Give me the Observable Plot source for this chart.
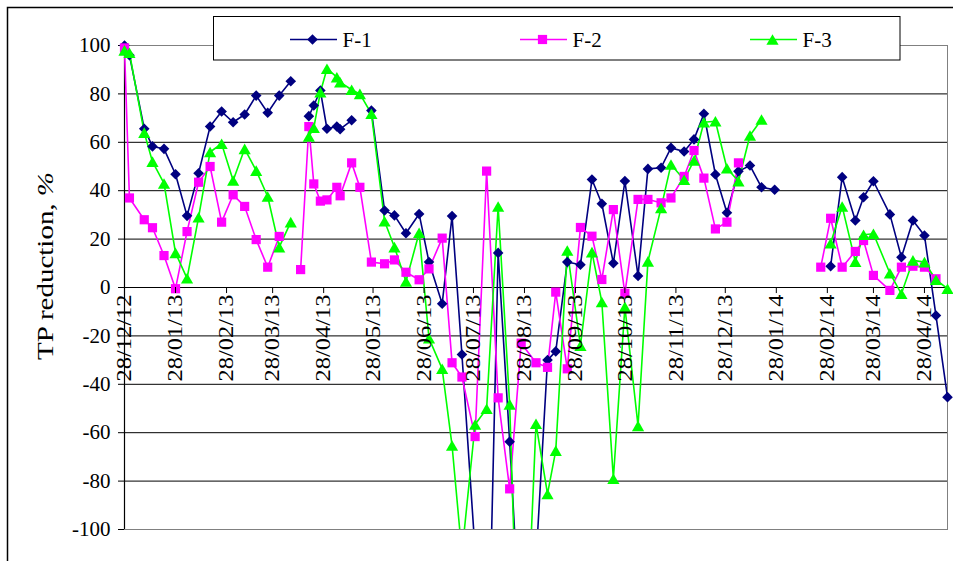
<!DOCTYPE html>
<html><head><meta charset="utf-8">
<script src="https://cdn.jsdelivr.net/npm/d3@7"></script>
<script src="https://cdn.jsdelivr.net/npm/@observablehq/plot@0.6"></script>
<style>
html,body{margin:0;padding:0;background:#fff;}
#chart{position:relative;width:953px;height:561px;overflow:hidden;}
</style></head><body><div id="chart"></div>
<script>
// ---- data ----
const dates = [
 "2012-12-28","2012-12-31","2013-01-09","2013-01-14","2013-01-21","2013-01-28","2013-02-04","2013-02-11",
 "2013-02-18","2013-02-25","2013-03-04","2013-03-11","2013-03-18","2013-03-25","2013-04-01","2013-04-08",
 "2013-04-14","2013-04-19","2013-04-22","2013-04-26","2013-04-30","2013-05-06","2013-05-08","2013-05-15",
 "2013-05-20","2013-05-27","2013-06-04","2013-06-10","2013-06-17","2013-06-25","2013-07-01","2013-07-09",
 "2013-07-15","2013-07-21","2013-07-29","2013-08-05","2013-08-12","2013-08-19","2013-08-26","2013-09-04",
 "2013-09-11","2013-09-16","2013-09-23","2013-10-01","2013-10-08","2013-10-14","2013-10-21","2013-10-28",
 "2013-11-05","2013-11-11","2013-11-19","2013-11-25","2013-12-03","2013-12-09","2013-12-15","2013-12-22",
 "2013-12-29","2014-01-05","2014-01-12","2014-01-19","2014-01-27","2014-02-24","2014-03-02","2014-03-09",
 "2014-03-17","2014-03-22","2014-03-28","2014-04-07","2014-04-14","2014-04-21","2014-04-28","2014-05-05",
 "2014-05-12"
];
const f1 = [
 100, 96, 65.6, 58.3, 57.3, 46.8, 29.6, 47.2,
 66.5, 72.7, 68.3, 71.5, 79.3, 72.2, 79.3, 85.2,
 null, 70.8, 75.2, 81.4, 65.6, 66.5, 65.4, 69.1,
 null, 73.1, 31.8, 29.8, 22.4, 30.4, 10.5, -6.7,
 29.5, -27.7, -109, -190, 14.3, -63.7, -150, -113,
 -30, -26.4, 10.5, 9.4, 44.6, 34.6, 10, 44,
 4.8, 49, 49.5, 57.7, 56.2, 61.2, 71.8, 46.7,
 30.9, 48, 50.4, 41.4, 40.4, null, 8.8, 45.6,
 27.7, 37.3, 43.9, 30.2, 12.5, 27.7, 21.5, -11.6,
 -45.3
];
const f2 = [
 99, 37, 28, 24.7, 13.2, -0.5, 23.1, 43.5,
 50, 27, 38.3, 33.5, 19.8, 8.4, 21.1, null,
 7.4, 66.5, 42.8, 35.7, 36.2, 41.4, 37.9, 51.5,
 41.4, 10.5, 9.8, 11.4, 6.3, 3.2, 7.7, 20.4,
 -31.1, -37, -61.6, 48.1, -45.6, -83.2, -23, -31.1,
 -33, -1.9, -33.6, 24.8, 21.2, 3.3, 32.2, -2.4,
 36.4, 36.4, 35, 37, 45.9, 56.6, 45.2, 24.2,
 27, 51.5, null, null, null, 8.4, 28.6, 8.4,
 14.9, 19.4, 5, -1.2, 8.4, 8.8, 8.4, 3.6,
 null
];
const f3 = [
 98, 97, 64, 52, 43, 14.3, 3.8, 29,
 56, 59.4, 44.2, 57.3, 48.3, 37.6, 16.7, 27,
 null, 62.4, 66, 80.7, 90.4, 86.9, 84.8, 81.7,
 80, 71.8, 27.4, 16.7, 2.5, 22.6, -21, -33.6,
 -65.3, -110, -56.6, -50.1, 33.5, -48.3, -200, -56.3,
 -85.3, -67.4, 15.3, -24, 14.6, -6, -79, -8,
 -57.2, 10.8, 32.9, 50.8, 44.5, 52.5, 68.3, 68.7,
 49.3, 43.9, 62.8, 69.4, null, null, 18.3, 33.5,
 10.7, 21.8, 22.2, 5.9, -2.6, 11.2, 10.5, 3.2,
 -0.5
];
const seriesNames = ["F-1", "F-2", "F-3"];
const seriesColors = ["#000080", "#ff00ff", "#00ff00"];
const xTickLabels = ["28/12/12","28/01/13","28/02/13","28/03/13","28/04/13","28/05/13","28/06/13","28/07/13",
 "28/08/13","28/09/13","28/10/13","28/11/13","28/12/13","28/01/14","28/02/14","28/03/14","28/04/14"];
const yTicks = [-100, -80, -60, -40, -20, 0, 20, 40, 60, 80, 100];
const yLabel = "TP reduction, ";
const yLabelUnit = "%";

// ---- helpers ----
const parseISO = d3.utcParse("%Y-%m-%d");
const parseTick = d3.utcParse("%d/%m/%y");
const tickDates = xTickLabels.map(parseTick);
const sym = {
  diamond: {draw(c, s){const h=Math.sqrt(s/Math.PI);c.moveTo(0,-h);c.lineTo(h,0);c.lineTo(0,h);c.lineTo(-h,0);c.closePath();}},
  square: {draw(c, s){const h=Math.sqrt(s/Math.PI);c.moveTo(-h,-h);c.lineTo(h,-h);c.lineTo(h,h);c.lineTo(-h,h);c.closePath();}},
  triangle: {draw(c, s){const h=Math.sqrt(s/Math.PI);c.moveTo(0,-h);c.lineTo(h*1.15,h);c.lineTo(-h*1.15,h);c.closePath();}}
};
const markers = [{s: sym.diamond, r: 5.3}, {s: sym.square, r: 4.6}, {s: sym.triangle, r: 5.3}];
const allValues = [f1, f2, f3];
const series = allValues.map((vals, k) => dates.map((d, i) => ({date: parseISO(d), v: vals[i], name: seriesNames[k]})));
const x0 = parseISO(dates[0]), x1 = parseISO(dates[dates.length - 1]);
const inRange = d => d.v != null && d.v >= -100 && d.v <= 100;

const marks = [
  Plot.ruleY(yTicks.slice(1, -1), {stroke: "#000", strokeWidth: 1}),
  Plot.frame({stroke: "#808080"}),
  Plot.ruleX([x0], {stroke: "#000", strokeWidth: 1.2}),
];
series.forEach((rows, k) => {
  marks.push(Plot.line(rows, {x: "date", y: "v", stroke: seriesColors[k], strokeWidth: 1.6, clip: true}));
});
series.forEach((rows, k) => {
  marks.push(Plot.dot(rows, {filter: inRange, x: "date", y: "v", symbol: markers[k].s, r: markers[k].r, fill: seriesColors[k], stroke: "none"}));
});
marks.push(Plot.ruleX(tickDates, {y1: 0, y2: -2.5, stroke: "#000"}));
marks.push(Plot.text(xTickLabels, {x: d => parseTick(d), y: () => 0, text: d => d, rotate: -90, textAnchor: "end", dy: 7, fontSize: 21, fill: "#000"}));

const svg = Plot.plot({
  width: 953, height: 561,
  marginLeft: 124, marginRight: 6, marginTop: 45, marginBottom: 32,
  style: {fontFamily: "'Liberation Serif', 'Times New Roman', serif", fontSize: "21px", background: "#fff", color: "#000"},
  x: {type: "utc", domain: [x0, x1], axis: null},
  y: {domain: [-100, 100], ticks: yTicks, tickSize: 6, tickPadding: 8, tickFormat: d => String(d), label: null},
  marks
});
document.getElementById("chart").appendChild(svg);

// ---- decorations ----
const sel = d3.select(svg);
sel.selectAll('g[aria-label="text"] text').attr("textLength", 87).attr("lengthAdjust", "spacingAndGlyphs");

// outer chart border
sel.append("path").attr("d", "M7.5,561V7.5H953").attr("fill", "none").attr("stroke", "#000").attr("stroke-width", 1.5);

// y-axis title
const yt = sel.append("text")
  .attr("transform", "translate(53,266) rotate(-90)")
  .attr("text-anchor", "middle")
  .attr("font-family", "'Liberation Serif', serif").attr("font-size", 23).attr("fill", "#000")
  .attr("textLength", 188).attr("lengthAdjust", "spacingAndGlyphs");
yt.append("tspan").text(yLabel);
yt.append("tspan").attr("font-style", "italic").text(yLabelUnit);

// legend
const lg = sel.append("g");
lg.append("rect").attr("x", 213.5).attr("y", 16.5).attr("width", 686.5).attr("height", 43.5)
  .attr("fill", "#fff").attr("stroke", "#000");
const legendPos = [290, 520, 750];
seriesNames.forEach((name, k) => {
  const lx = legendPos[k], ly = 39.5;
  lg.append("line").attr("x1", lx).attr("x2", lx + 47).attr("y1", ly).attr("y2", ly)
    .attr("stroke", seriesColors[k]).attr("stroke-width", 1.6);
  lg.append("path").attr("transform", `translate(${lx + 22.5},${ly})`)
    .attr("d", d3.symbol(markers[k].s, Math.PI * markers[k].r * markers[k].r)())
    .attr("fill", seriesColors[k]);
  lg.append("text").attr("x", lx + 52.5).attr("y", ly + 7.5).attr("text-anchor", "start")
    .attr("font-family", "'Liberation Serif', serif").attr("font-size", 21).attr("fill", "#000").text(name);
});
</script></body></html>
